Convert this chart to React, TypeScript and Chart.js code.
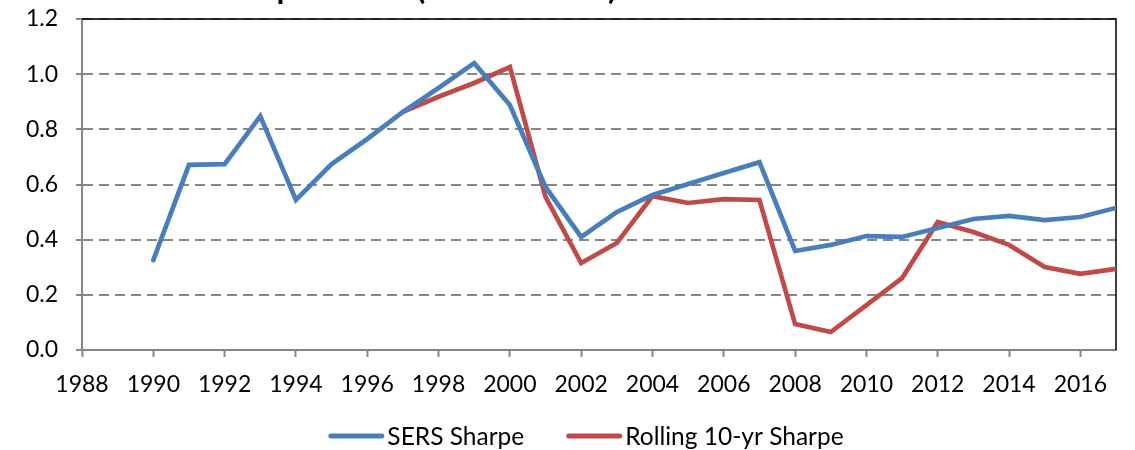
import React, { useEffect, useRef } from "react";
import { Chart, registerables } from "chart.js";

Chart.register(...registerables);

const years = [
  1990, 1991, 1992, 1993, 1994, 1995, 1996, 1997, 1998, 1999, 2000, 2001, 2002, 2003,
  2004, 2005, 2006, 2007, 2008, 2009, 2010, 2011, 2012, 2013, 2014, 2015, 2016, 2017,
];
const sersSharpe = [
  0.326, 0.671, 0.674, 0.848, 0.544, 0.674, 0.765, 0.863, 0.95, 1.04, 0.888, 0.591, 0.41, 0.5,
  0.562, 0.602, 0.642, 0.681, 0.359, 0.381, 0.413, 0.41, 0.442, 0.475, 0.486, 0.471, 0.482, 0.515,
];
const rollingSharpe: (number | null)[] = [
  null, null, null, null, null, null, null, 0.863, 0.918, 0.968, 1.026, 0.555, 0.315, 0.388,
  0.558, 0.533, 0.547, 0.544, 0.094, 0.065, 0.163, 0.261, 0.464, 0.428, 0.381, 0.301, 0.276, 0.294,
];
const seriesLabels = ["SERS Sharpe", "Rolling 10-yr Sharpe"];
const seriesColors = ["#4A7EBB", "#BE4B48"];
const titleText = "SERS Sharpe Ratios (1990 – 2017)";
const xMin = 1988;
const xMax = 2017;
const yMin = 0;
const yMax = 1.2;

const FONT = "Lato, 'Open Sans', sans-serif";

const frameAndLegend = {
  id: "frameAndLegend",
  beforeDraw(chart: any) {
    const ctx = chart.ctx;
    ctx.save();
    ctx.fillStyle = "#ffffff";
    ctx.fillRect(0, 0, chart.width, chart.height);
    ctx.restore();
  },
  beforeDatasetsDraw(chart: any) {
    const { ctx, chartArea } = chart;
    ctx.save();
    ctx.strokeStyle = "#000000";
    ctx.lineWidth = 1.5;
    ctx.beginPath();
    ctx.moveTo(chartArea.left, chartArea.top);
    ctx.lineTo(chartArea.right, chartArea.top);
    ctx.lineTo(chartArea.right, chartArea.bottom);
    ctx.stroke();
    ctx.restore();
  },
  afterDraw(chart: any) {
    const ctx = chart.ctx;
    ctx.save();
    // title (mostly cut off at the top edge)
    ctx.font = `bold 32px ${FONT}`;
    ctx.fillStyle = "#000";
    ctx.textBaseline = "alphabetic";
    ctx.textAlign = "left";
    ctx.fillText(titleText, 131, -1);

    // legend
    ctx.font = `24.5px ${FONT}`;
    ctx.textBaseline = "middle";
    const lineW = 56;
    const gap = 3;
    const itemGap = 42;
    const ds = chart.data.datasets;
    const widths = ds.map((d: any) => lineW + gap + ctx.measureText(d.label).width);
    const total = widths.reduce((a: number, b: number) => a + b, 0) + itemGap * (ds.length - 1);
    let x = 586 - total / 2;
    const y = 436;
    ds.forEach((d: any, i: number) => {
      ctx.strokeStyle = d.borderColor;
      ctx.lineWidth = 5;
      ctx.lineCap = "round";
      ctx.beginPath();
      ctx.moveTo(x + 2.5, y);
      ctx.lineTo(x + lineW - 2.5, y);
      ctx.stroke();
      ctx.fillStyle = "#000";
      ctx.fillText(d.label, x + lineW + gap, y + 1);
      x += widths[i] + itemGap;
    });
    ctx.restore();
  },
};

export default function App() {
  const ref = useRef<HTMLCanvasElement | null>(null);

  useEffect(() => {
    if (!ref.current) return;
    const chart = new Chart(ref.current, {
      type: "line",
      data: {
        datasets: [
          {
            label: seriesLabels[0],
            data: years.map((yr, i) => ({ x: yr, y: sersSharpe[i] })),
            borderColor: seriesColors[0],
            backgroundColor: seriesColors[0],
            borderWidth: 4.7,
            pointRadius: 0,
            tension: 0,
            borderCapStyle: "round",
            borderJoinStyle: "miter",
          },
          {
            label: seriesLabels[1],
            data: years.map((yr, i) => ({ x: yr, y: rollingSharpe[i] })),
            borderColor: seriesColors[1],
            backgroundColor: seriesColors[1],
            borderWidth: 4.7,
            pointRadius: 0,
            tension: 0,
            spanGaps: false,
            borderCapStyle: "round",
            borderJoinStyle: "miter",
          },
        ],
      },
      options: {
        responsive: false,
        animation: false,
        devicePixelRatio: 1,
        layout: { padding: { top: 19, right: 19, left: 0, bottom: 0 } },
        plugins: {
          legend: { display: false },
          tooltip: { enabled: false },
          title: { display: false },
        },
        scales: {
          x: {
            type: "linear",
            min: xMin,
            max: xMax,
            afterFit: (s: any) => {
              s.height = 100;
            },
            ticks: {
              stepSize: 2,
              includeBounds: false,
              autoSkip: false,
              maxRotation: 0,
              callback: (v: any) => String(v),
              font: { family: FONT, size: 23 },
              color: "#000",
              padding: 14,
            },
            grid: {
              drawOnChartArea: false,
              drawTicks: true,
              tickLength: 7,
              tickColor: "#868686",
              tickWidth: 2,
            },
            border: { color: "#868686", width: 2 },
          },
          y: {
            min: yMin,
            max: yMax,
            afterFit: (s: any) => {
              s.width = 82;
            },
            ticks: {
              stepSize: 0.2,
              callback: (v: any) => Number(v).toFixed(1),
              font: { family: FONT, size: 23, lineHeight: 0.05 },
              color: "#000",
              padding: 18,
            },
            grid: {
              color: "#868686",
              lineWidth: 2,
              tickLength: 6,
              tickColor: "#868686",
              tickWidth: 2,
            },
            border: { color: "#868686", width: 2, dash: [10, 6] },
          },
        },
      },
      plugins: [frameAndLegend],
    } as any);
    return () => chart.destroy();
  }, []);

  return (
    <div style={{ position: "fixed", left: 0, top: 0, width: 1135, height: 450 }}>
      <canvas ref={ref} width={1135} height={450} />
    </div>
  );
}
